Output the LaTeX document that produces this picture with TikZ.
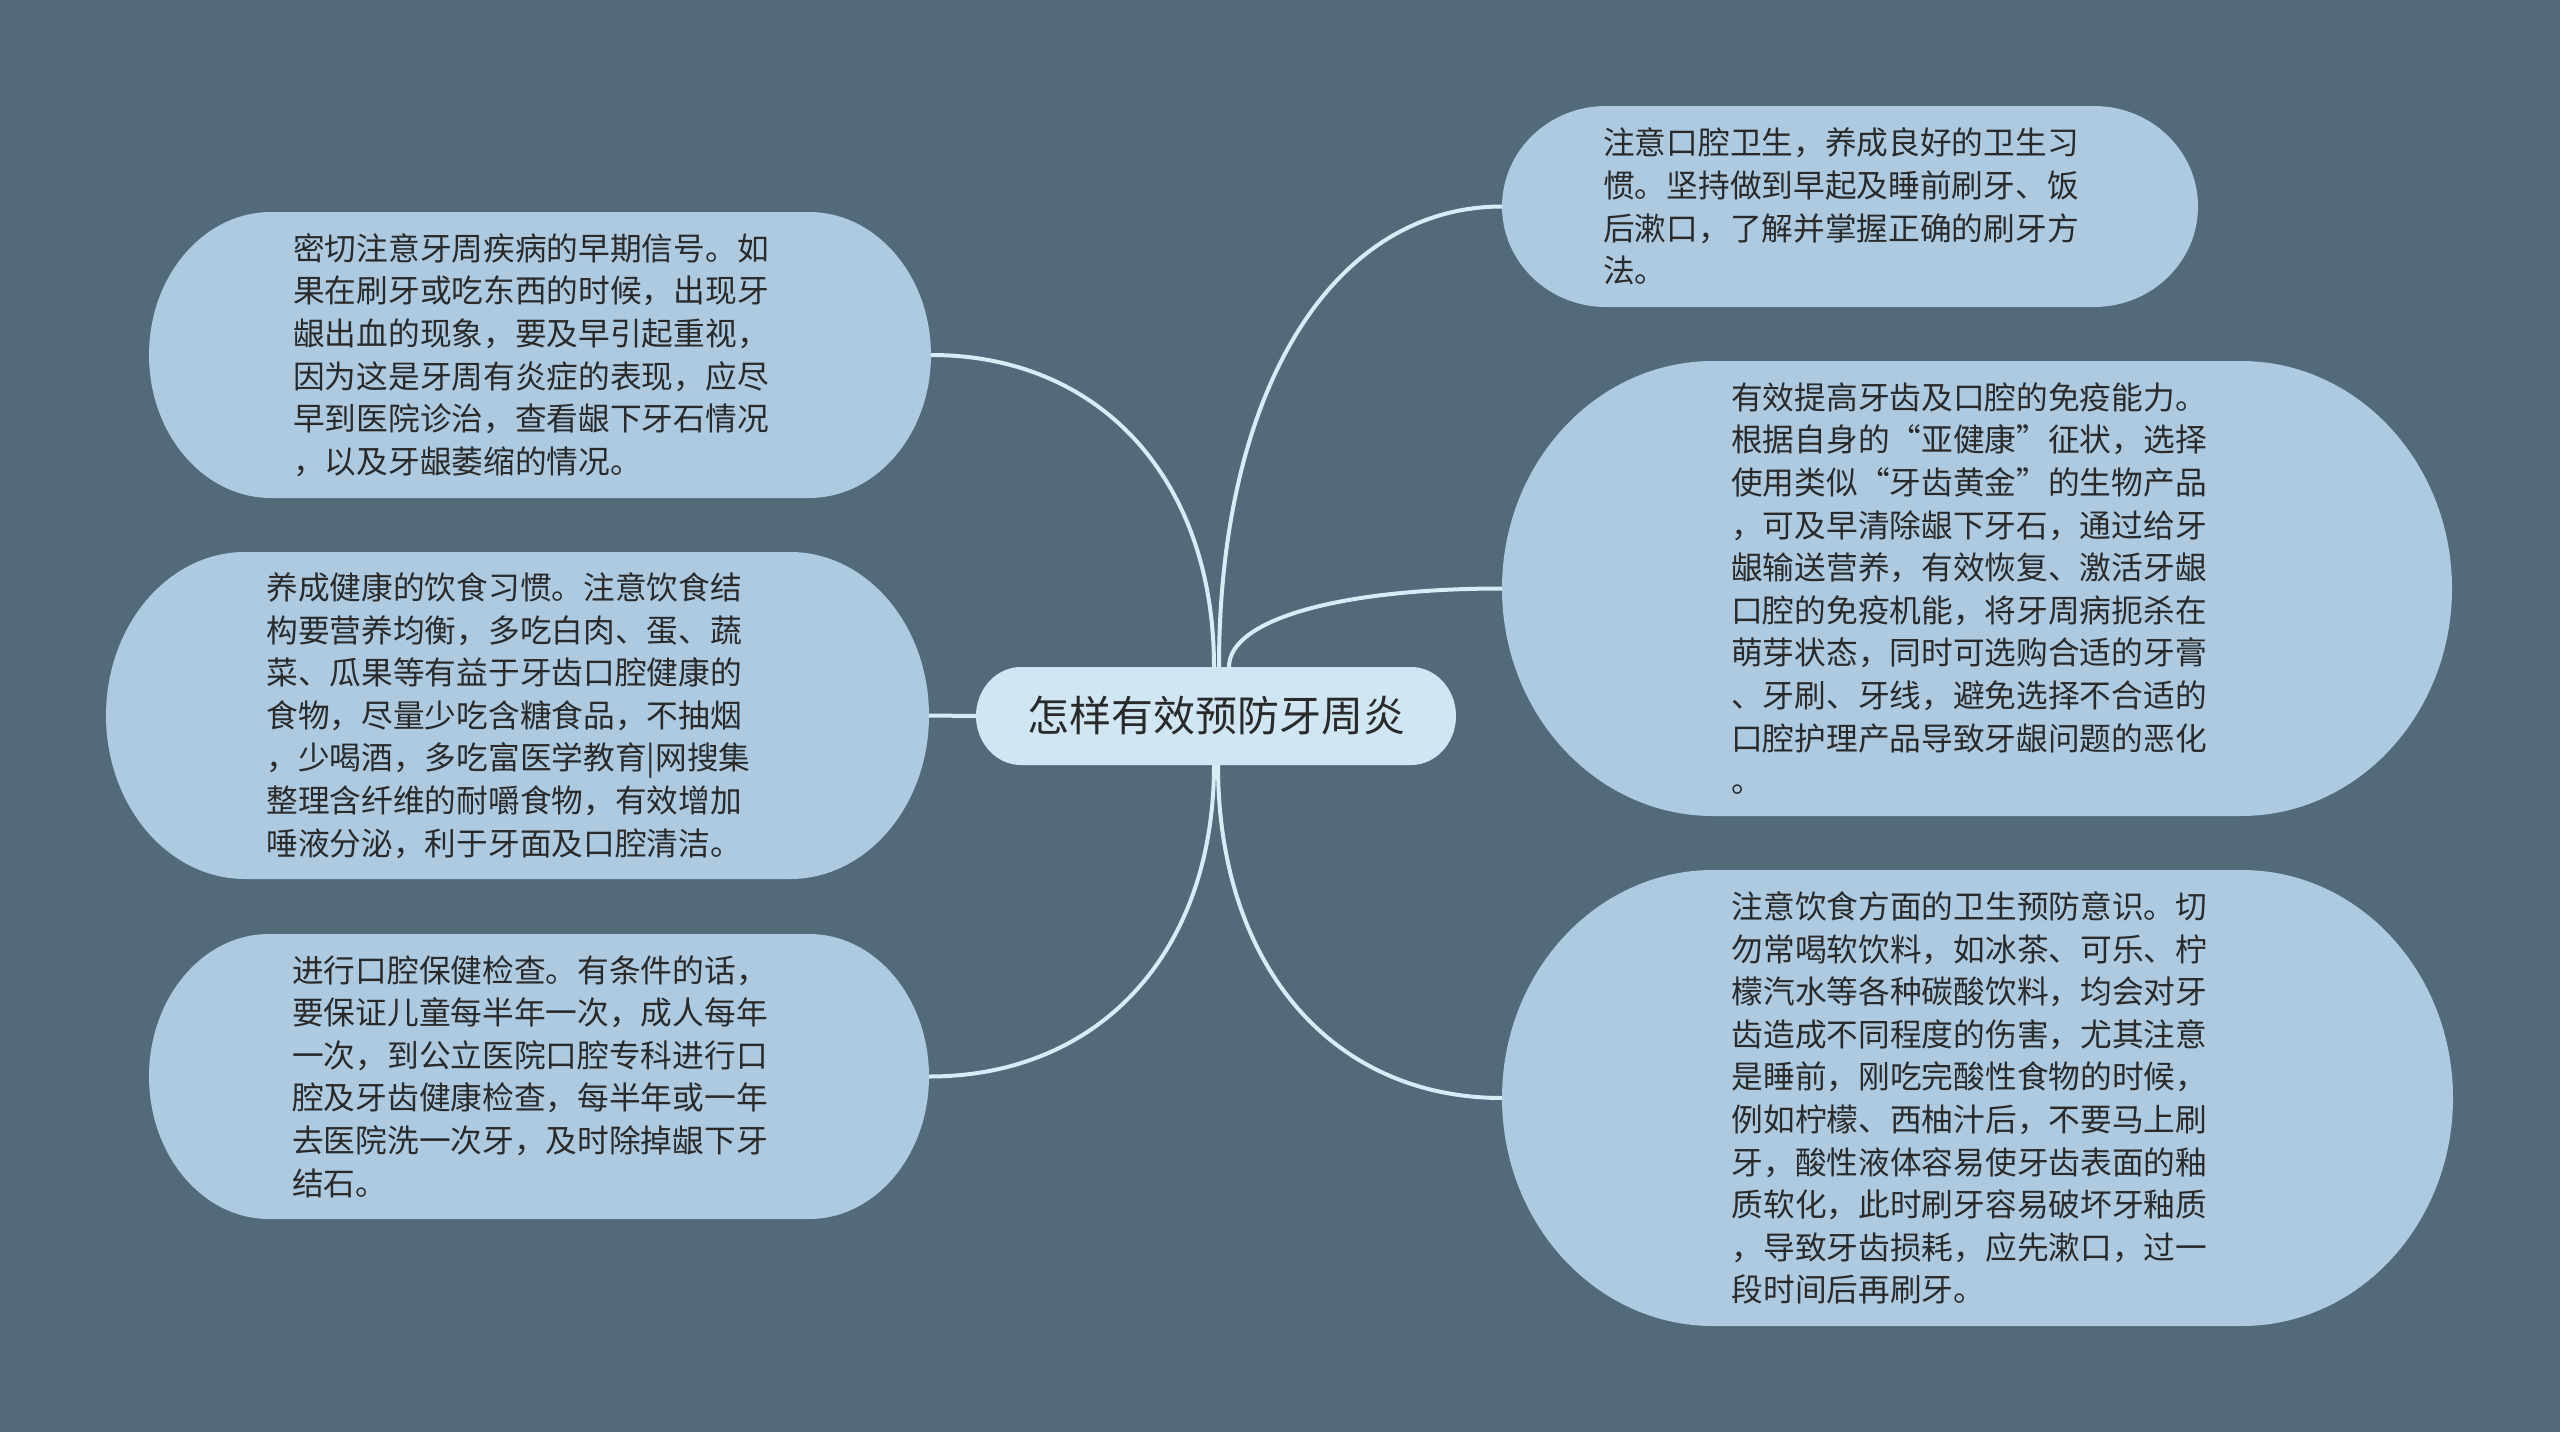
\documentclass[tikz,border=0pt]{standalone}
\usepackage{fontspec}
\setmainfont{Noto Sans CJK SC}
\usetikzlibrary{calc}
\definecolor{bgc}{HTML}{526A7A}
\definecolor{kidc}{HTML}{ADCAE0}
\definecolor{rootc}{HTML}{D0E6F3}
\definecolor{linec}{HTML}{D6ECF7}
\definecolor{txtc}{HTML}{2A2A2A}
% cx cy w h rx ry colour
\newcommand\pillshape[7]{%
  \fill[#7] ({#1-#3/2+#5},{#2-#4/2}) -- ({#1+#3/2-#5},{#2-#4/2})
    arc[start angle=90,end angle=-90,x radius=#5pt,y radius=#6pt]
    -- ({#1-#3/2+#5},{#2+#4/2})
    arc[start angle=270,end angle=90,x radius=#5pt,y radius=#6pt] -- cycle;}
\newcommand\conn[2]{\draw[connline] (#1) .. controls ($(#1)!0.6!(#1 |- #2)$) and ($(#2)!0.6!(#1 |- #2)$) .. (#2);}
\tikzset{
  shapebox/.style={inner sep=0pt, outer sep=0pt},
  kidtext/.style={inner sep=0pt, text=txtc, align=left, font=\fontsize{31.7}{42.6}\selectfont},
  roottext/.style={inner sep=0pt, text=txtc, font=\fontsize{42}{50}\selectfont},
  connline/.style={draw=linec, line width=4pt},
}
\begin{document}
\begin{tikzpicture}[x=1pt,y=-1pt]
\fill[bgc] (0,0) rectangle (2560,1432);
\useasboundingbox (0,0) rectangle (2560,1432);

% shapes
\pillshape{1216}{716}{480}{98}{45}{49}{rootc}
\pillshape{540}{355}{782}{286}{122}{143}{kidc}
\pillshape{517.5}{715.5}{823}{327}{139}{163.5}{kidc}
\pillshape{539}{1076.5}{780}{285}{120}{142.5}{kidc}
\pillshape{1850}{206.5}{696}{201}{104}{100.5}{kidc}
\pillshape{1977}{588.5}{950}{455}{211}{227.5}{kidc}
\pillshape{1977.5}{1098}{951}{456}{211}{228}{kidc}

% nodes
\node[shapebox, minimum width=480pt, minimum height=98pt] (root) at (1216,716) {};
\node[shapebox, minimum width=782pt, minimum height=286pt] (l1) at (540,355) {};
\node[shapebox, minimum width=823pt, minimum height=327pt] (l2) at (517.5,715.5) {};
\node[shapebox, minimum width=780pt, minimum height=285pt] (l3) at (539,1076.5) {};
\node[shapebox, minimum width=696pt, minimum height=201pt] (r1) at (1850,206.5) {};
\node[shapebox, minimum width=950pt, minimum height=455pt] (r2) at (1977,588.5) {};
\node[shapebox, minimum width=951pt, minimum height=456pt] (r3) at (1977.5,1098) {};

\node[roottext] (roott) at (root.center) {怎样有效预防牙周炎};

\node[kidtext] (l1t) at ([xshift=-9pt]l1.center) {密切注意牙周疾病的早期信号。如\\
果在刷牙或吃东西的时候，出现牙\\
龈出血的现象，要及早引起重视，\\
因为这是牙周有炎症的表现，应尽\\
早到医院诊治，查看龈下牙石情况\\
，以及牙龈萎缩的情况。};

\node[kidtext] (l2t) at ([xshift=-9pt]l2.center) {养成健康的饮食习惯。注意饮食结\\
构要营养均衡，多吃白肉、蛋、蔬\\
菜、瓜果等有益于牙齿口腔健康的\\
食物，尽量少吃含糖食品，不抽烟\\
，少喝酒，多吃富医学教育|网搜集\\
整理含纤维的耐嚼食物，有效增加\\
唾液分泌，利于牙面及口腔清洁。};

\node[kidtext] (l3t) at ([xshift=-9pt]l3.center) {进行口腔保健检查。有条件的话，\\
要保证儿童每半年一次，成人每年\\
一次，到公立医院口腔专科进行口\\
腔及牙齿健康检查，每半年或一年\\
去医院洗一次牙，及时除掉龈下牙\\
结石。};

\node[kidtext] (r1t) at ([xshift=-9pt]r1.center) {注意口腔卫生，养成良好的卫生习\\
惯。坚持做到早起及睡前刷牙、饭\\
后漱口，了解并掌握正确的刷牙方\\
法。};

\node[kidtext] (r2t) at ([xshift=-8pt]r2.center) {有效提高牙齿及口腔的免疫能力。\\
根据自身的“亚健康”征状，选择\\
使用类似“牙齿黄金”的生物产品\\
，可及早清除龈下牙石，通过给牙\\
龈输送营养，有效恢复、激活牙龈\\
口腔的免疫机能，将牙周病扼杀在\\
萌芽状态，同时可选购合适的牙膏\\
、牙刷、牙线，避免选择不合适的\\
口腔护理产品导致牙龈问题的恶化\\
。};

\node[kidtext] (r3t) at ([xshift=-8pt]r3.center) {注意饮食方面的卫生预防意识。切\\
勿常喝软饮料，如冰茶、可乐、柠\\
檬汽水等各种碳酸饮料，均会对牙\\
齿造成不同程度的伤害，尤其注意\\
是睡前，刚吃完酸性食物的时候，\\
例如柠檬、西柚汁后，不要马上刷\\
牙，酸性液体容易使牙齿表面的釉\\
质软化，此时刷牙容易破坏牙釉质\\
，导致牙齿损耗，应先漱口，过一\\
段时间后再刷牙。};

% connector start points on the root
\coordinate (rnL) at ([xshift=-2pt]root.north);
\coordinate (rnR) at ([xshift=3pt]root.north);
\coordinate (rnR2) at ([xshift=13pt]root.north);
\coordinate (rsL) at ([xshift=-2pt]root.south);
\coordinate (rsR) at ([xshift=2pt]root.south);

\conn{rnL}{l1.east}
\conn{rnR}{r1.west}
\conn{rnR2}{r2.west}
\conn{rsL}{l3.east}
\conn{rsR}{r3.west}
\draw[connline] (root.west) -- (l2.east);
\end{tikzpicture}
\end{document}
